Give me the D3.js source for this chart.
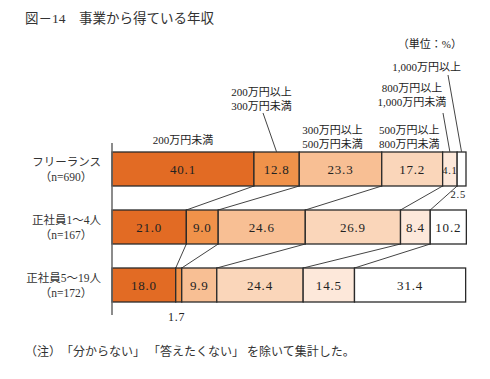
<!DOCTYPE html>
<html>
<head>
<meta charset="utf-8">
<script src="https://cdn.jsdelivr.net/npm/d3@7"></script>
<style>
  body { margin: 0; background: #fff; }
  text { font-family: "Liberation Serif", "Noto Sans CJK JP", serif; fill: #222; }
</style>
</head>
<body>
<div id="chart"></div>
<script>
var width = 490, height = 379;

// data
const categories = ["フリーランス", "正社員1～4人", "正社員5～19人"];
const nLabels = ["（n=690）", "（n=167）", "（n=172）"];
const bands = ["200万円未満", "200万円以上300万円未満", "300万円以上500万円未満",
               "500万円以上800万円未満", "800万円以上1,000万円未満", "1,000万円以上"];
const freelance = [40.1, 12.8, 23.3, 17.2, 4.1, 2.5];
const small = [21.0, 9.0, 24.6, 26.9, 8.4, 10.2];
const medium = [18.0, 1.7, 9.9, 24.4, 14.5, 31.4];
const rows = [freelance, small, medium];

const colors = ["#e26b24", "#f0924a", "#f8bf94", "#fad6ba", "#fde8da", "#ffffff"];

var svg = d3.select("#chart").append("svg")
  .attr("width", width)
  .attr("height", height);

var x = d3.scaleLinear().domain([0, 100]).range([112, 466]);
var y = d3.scaleBand().domain(categories).range([152, 302]).paddingInner(24 / 58);
var color = d3.scaleOrdinal().domain(bands).range(colors);

// cumulative starts for each row
var stacked = rows.map(function(vals, r) {
  var c = 0;
  return vals.map(function(v, i) {
    var d = { row: r, cat: categories[r], band: bands[i], value: v, x0: c, x1: c + v };
    c += v;
    return d;
  });
});

// title
svg.append("text")
  .attr("x", 25).attr("y", 23)
  .style("font-size", "13.5px")
  .style("fill", "#333")
  .text("図－14　事業から得ている年収");

svg.append("text")
  .attr("x", 462).attr("y", 48)
  .attr("text-anchor", "end")
  .style("font-size", "11px")
  .text("（単位：%）");

// connector lines between rows
for (var r = 0; r < rows.length - 1; r++) {
  for (var k = 1; k < bands.length; k++) {
    svg.append("line")
      .attr("x1", x(stacked[r][k].x0)).attr("y1", y(categories[r]) + y.bandwidth())
      .attr("x2", x(stacked[r + 1][k].x0)).attr("y2", y(categories[r + 1]))
      .attr("stroke", "#444").attr("stroke-width", 1);
  }
}

// bars
var rowsG = svg.append("g").selectAll("g")
  .data(stacked)
  .enter().append("g");

rowsG.selectAll("rect")
  .data(d => d)
  .enter().append("rect")
  .attr("x", d => x(d.x0))
  .attr("y", d => y(d.cat))
  .attr("width", d => x(d.x1) - x(d.x0))
  .attr("height", y.bandwidth())
  .attr("fill", d => color(d.band))
  .attr("stroke", "#2a2a2a")
  .attr("stroke-width", 1.3);

// values inside bars
rowsG.selectAll("text.val")
  .data(d => d.filter(e => e.value >= 3))
  .enter().append("text")
  .attr("class", "val")
  .attr("x", d => (x(d.x0) + x(d.x1)) / 2)
  .attr("y", d => y(d.cat) + y.bandwidth() / 2 + 4.5)
  .attr("text-anchor", "middle")
  .style("font-size", d => d.value < 5 ? "10.5px" : "13px")
  .style("letter-spacing", "0.8px")
  .text(d => d.value.toFixed(1));

// small values placed outside
var outside = [].concat.apply([], stacked).filter(d => d.value < 3);
svg.selectAll("text.out")
  .data(outside)
  .enter().append("text")
  .attr("class", "out")
  .attr("x", d => d.row === 0 ? x(d.x1) : (x(d.x0) + x(d.x1)) / 2 - 2)
  .attr("y", d => d.row === 0 ? y(d.cat) + y.bandwidth() + 12 : y(d.cat) + y.bandwidth() + 19)
  .attr("text-anchor", d => d.row === 0 ? "end" : "middle")
  .style("font-size", d => d.row === 0 ? "10.5px" : "12px")
  .style("letter-spacing", "0.8px")
  .text(d => d.value.toFixed(1));

// axis line
svg.append("line")
  .attr("x1", x(0)).attr("x2", x(0))
  .attr("y1", 143).attr("y2", 315)
  .attr("stroke", "#666").attr("stroke-width", 1.5);

// category labels
categories.forEach(function(c, i) {
  var cy = y(c) + y.bandwidth() / 2;
  svg.append("text")
    .attr("x", 101).attr("y", cy - 3)
    .attr("text-anchor", "end")
    .style("font-size", "11.5px")
    .style("fill", "#333")
    .text(c);
  svg.append("text")
    .attr("x", 66).attr("y", cy + 12)
    .attr("text-anchor", "middle")
    .style("font-size", "11.5px")
    .style("fill", "#333")
    .text(nLabels[i]);
});

// band labels above the first row
var topRow = stacked[0];
var topY = y(categories[0]);
function mid(d) { return (x(d.x0) + x(d.x1)) / 2; }

var headers = [
  { i: 0, lines: ["200万円未満"], cx: mid(topRow[0]), by: 144, anchor: "middle" },
  { i: 1, lines: ["200万円以上", "300万円未満"], cx: mid(topRow[1]) - 15, by: 96, anchor: "middle", lead: [263, 113] },
  { i: 2, lines: ["300万円以上", "500万円未満"], cx: mid(topRow[2]) - 8, by: 134, anchor: "middle" },
  { i: 3, lines: ["500万円以上", "800万円未満"], cx: mid(topRow[3]) - 3, by: 134, anchor: "middle" },
  { i: 4, lines: ["800万円以上", "1,000万円未満"], cx: mid(topRow[4]) - 38, by: 92, anchor: "middle", lead: [443, 113] },
  { i: 5, lines: ["1,000万円以上"], cx: mid(topRow[5]), by: 71, anchor: "end", lead: [448, 75] }
];

headers.forEach(function(h) {
  var t = svg.append("text")
    .attr("text-anchor", h.anchor)
    .style("font-size", "11px");
  h.lines.forEach(function(l, j) {
    t.append("tspan")
      .attr("x", h.anchor === "end" ? 461 : h.cx)
      .attr("y", h.by + j * 13.5)
      .text(l);
  });
  if (h.lead) {
    svg.append("line")
      .attr("x1", h.lead[0]).attr("y1", h.lead[1])
      .attr("x2", mid(topRow[h.i])).attr("y2", topY)
      .attr("stroke", "#444").attr("stroke-width", 1);
  }
});

// note
svg.append("text")
  .attr("x", 25).attr("y", 356)
  .style("font-size", "12px")
  .style("fill", "#333")
  .text("（注）　「分からない」 「答えたくない」 を除いて集計した。");
</script>
</body>
</html>
